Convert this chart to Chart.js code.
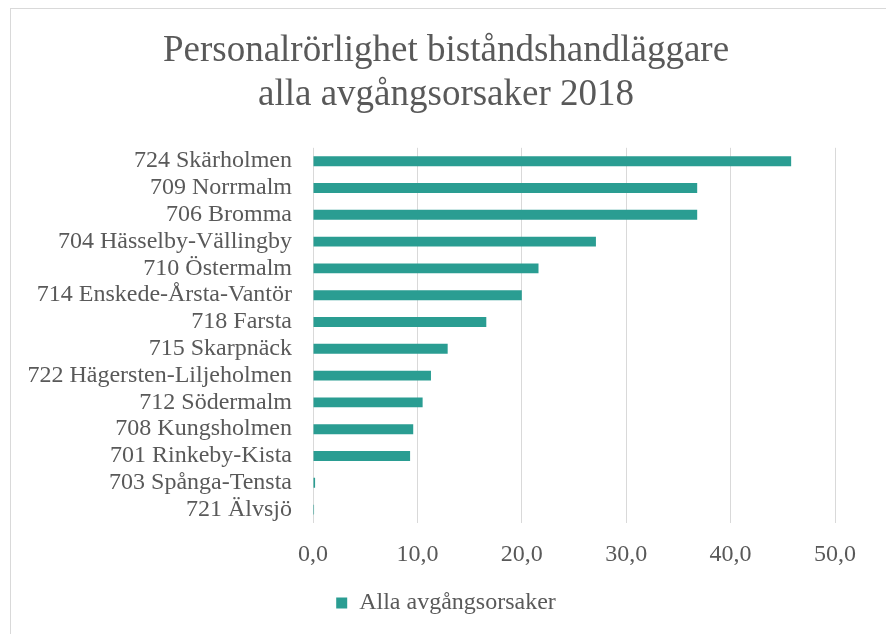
<!DOCTYPE html>
<html>
<head>
<meta charset="utf-8">
<script src="https://cdn.jsdelivr.net/npm/chart.js@4"></script>
<style>
  html, body { margin: 0; padding: 0; background: #fff; }
  #frame { position: absolute; left: 10px; top: 8px; width: 900px; height: 640px; border: 1px solid #d9d9d9; }
  #wrap { position: absolute; left: 0; top: 0; width: 886px; height: 634px; }
</style>
</head>
<body>
<div id="frame"></div>
<div id="wrap"><canvas id="chartCanvas" width="886" height="634"></canvas></div>
<script>
const districts = [
  "724 Skärholmen",
  "709 Norrmalm",
  "706 Bromma",
  "704 Hässelby-Vällingby",
  "710 Östermalm",
  "714 Enskede-Årsta-Vantör",
  "718 Farsta",
  "715 Skarpnäck",
  "722 Hägersten-Liljeholmen",
  "712 Södermalm",
  "708 Kungsholmen",
  "701 Rinkeby-Kista",
  "703 Spånga-Tensta",
  "721 Älvsjö"
];
const turnover = [45.8, 36.8, 36.8, 27.1, 21.6, 20.0, 16.6, 12.9, 11.3, 10.5, 9.6, 9.3, 0.2, 0.1];
const seriesName = "Alla avgångsorsaker";
const titleLines = ["Personalrörlighet biståndshandläggare", "alla avgångsorsaker 2018"];

const textColor = "#595959";
const serif = "'Liberation Serif', 'Times New Roman', serif";

const ctx = document.getElementById("chartCanvas").getContext("2d");
new Chart(ctx, {
  type: "bar",
  data: {
    labels: districts,
    datasets: [{
      label: seriesName,
      data: turnover,
      backgroundColor: "#2a9d92",
      barPercentage: 0.37,
      categoryPercentage: 1
    }]
  },
  options: {
    indexAxis: "y",
    responsive: false,
    animation: false,
    layout: { padding: { left: 6, right: 0, top: 9, bottom: 9 } },
    plugins: {
      title: {
        display: true,
        text: titleLines,
        color: textColor,
        font: { family: serif, size: 37, weight: "normal", lineHeight: 1.2 },
        padding: { top: 20, bottom: 30 }
      },
      legend: {
        position: "bottom",
        labels: {
          color: textColor,
          font: { family: serif, size: 24 },
          boxWidth: 11,
          boxHeight: 11,
          padding: 10
        }
      },
      tooltip: { enabled: false }
    },
    scales: {
      x: {
        min: 0,
        max: 50,
        ticks: {
          stepSize: 10,
          color: textColor,
          font: { family: serif, size: 24 },
          padding: 17,
          callback: v => v.toFixed(1).replace(".", ",")
        },
        grid: { color: "#d9d9d9", lineWidth: 1, drawTicks: false },
        border: { display: false },
        afterFit: s => { s.height = 58; }
      },
      y: {
        ticks: {
          color: textColor,
          font: { family: serif, size: 24 },
          padding: 21,
          autoSkip: false
        },
        grid: { display: false, drawTicks: false },
        border: { display: false },
        afterFit: s => { s.width = 307; }
      },
      // empty right-hand axis, only to leave space right of the plot
      yRight: {
        type: "category",
        axis: "y",
        position: "right",
        ticks: { display: false },
        grid: { display: false, drawTicks: false },
        border: { display: false },
        afterFit: s => { s.width = 51; }
      }
    }
  }
});
</script>
</body>
</html>
